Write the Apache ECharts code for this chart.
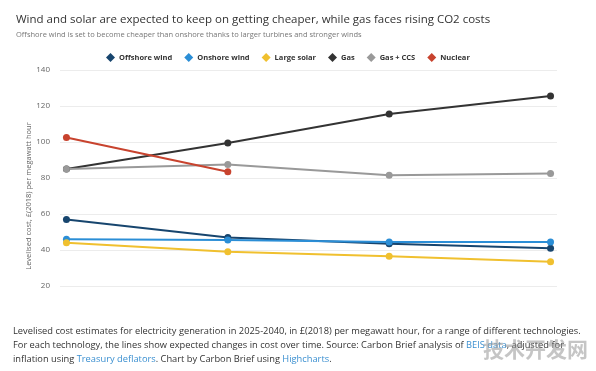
<!DOCTYPE html>
<html><head><meta charset="utf-8">
<script src="https://cdn.jsdelivr.net/npm/echarts@6/dist/echarts.min.js"></script>
<style>html,body{margin:0;padding:0;background:#fff}#c{width:596px;height:371px}</style>
</head><body><div id="c"></div>
<script>
const years = [2025, 2030, 2035, 2040];
const offshoreWind = [57, 47, 43.5, 41];
const onshoreWind = [46, 45.5, 44.5, 44.5];
const largeSolar = [44, 39, 36.5, 33.5];
const gas = [85, 99.5, 115.5, 125.5];
const gasCCS = [85, 87.5, 81.5, 82.5];
const nuclear = [102.5, 83.5];
const yTicks = [20, 40, 60, 80, 100, 120, 140];

const seriesDefs = [
  {name: 'Offshore wind', data: offshoreWind, color: '#17456e'},
  {name: 'Onshore wind', data: onshoreWind, color: '#2b8ed6'},
  {name: 'Large solar', data: largeSolar, color: '#f0c02f'},
  {name: 'Gas', data: gas, color: '#333333'},
  {name: 'Gas + CCS', data: gasCCS, color: '#999999'},
  {name: 'Nuclear', data: nuclear, color: '#c8432e'}
];

const chart = echarts.init(document.getElementById('c'), null, {renderer: 'canvas'});
const font = 'Open Sans, Noto Sans, sans-serif';
chart.setOption({
  animation: false,
  backgroundColor: '#fff',
  title: {
    text: 'Wind and solar are expected to keep on getting cheaper, while gas faces rising CO2 costs',
    subtext: 'Offshore wind is set to become cheaper than onshore thanks to larger turbines and stronger winds',
    left: 11, top: 9, itemGap: 5,
    textStyle: {fontSize: 11.5, fontWeight: 'normal', color: '#333', fontFamily: font},
    subtextStyle: {fontSize: 7.5, color: '#777', fontFamily: font}
  },
  legend: {
    left: 101, top: 48, icon: 'diamond', itemWidth: 9, itemHeight: 9, itemGap: 12,
    textStyle: {fontSize: 7.5, fontWeight: 'bold', color: '#333', fontFamily: font, padding: [0,0,0,-1]},
    data: seriesDefs.map(s => s.name)
  },
  grid: {left: 60, right: 39, top: 70, bottom: 85},
  xAxis: {
    type: 'value', min: 2024.8, max: 2040.2,
    axisLine: {show: false}, axisTick: {show: false}, axisLabel: {show: false}, splitLine: {show: false}
  },
  yAxis: {
    type: 'value', min: yTicks[0], max: yTicks[yTicks.length-1], interval: 20,
    name: 'Levelised cost, £(2018) per megawatt hour', nameLocation: 'middle', nameGap: 27,
    nameMoveOverlap: false,
    nameTextStyle: {fontSize: 7.5, color: '#666', fontFamily: font, padding: [0, 36, 0, 0]},
    axisLine: {show: false}, axisTick: {show: false},
    axisLabel: {fontSize: 8, color: '#666', margin: 10, fontFamily: font},
    splitLine: {lineStyle: {color: '#ececec', width: 1}}
  },
  series: seriesDefs.map(s => ({
    name: s.name, type: 'line',
    data: s.data.map((v, i) => [years[i], v]),
    color: s.color, symbol: 'circle', symbolSize: 7,
    lineStyle: {width: 2, color: s.color},
    itemStyle: {color: s.color}
  })),
  graphic: [
    {type: 'text', left: 13, top: 327, style: {
      text: 'Levelised cost estimates for electricity generation in 2025-2040, in £(2018) per megawatt hour, for a range of different technologies.',
      fontSize: 9.3, fill: '#333', fontFamily: font}},
    {type: 'text', left: 13, top: 341, style: {
      text: 'For each technology, the lines show expected changes in cost over time. Source: Carbon Brief analysis of {b|BEIS data}, adjusted for',
      fontSize: 9.3, fill: '#333', fontFamily: font,
      rich: {b: {fontSize: 9.3, fill: '#3a8fd0', fontFamily: font}}}},
    {type: 'text', left: 13, top: 355, style: {
      text: 'inflation using {b|Treasury deflators}. Chart by Carbon Brief using {b|Highcharts}.',
      fontSize: 9.3, fill: '#333', fontFamily: font,
      rich: {b: {fontSize: 9.3, fill: '#3a8fd0', fontFamily: font}}}},
    {type: 'text', left: 483, top: 339, style: {
      text: '技术开发网', fontSize: 21, fontWeight: 'bold', fill: 'rgba(150,150,150,0.55)', fontFamily: 'Noto Sans CJK SC'}}
  ]
});
</script></body></html>
